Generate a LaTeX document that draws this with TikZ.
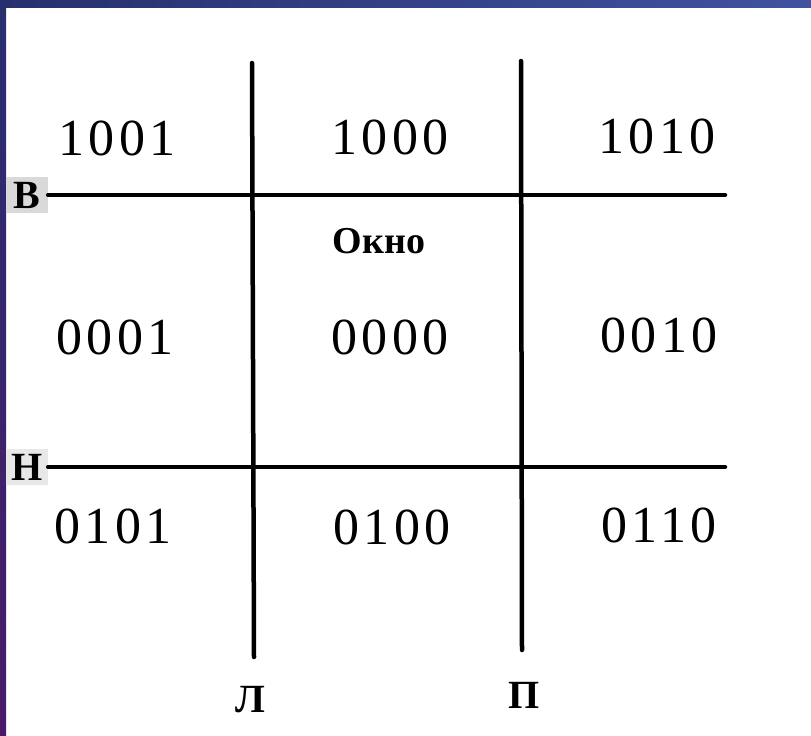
\documentclass[tikz,border=0pt]{standalone}
\usepackage{fontspec}
\setmainfont{Liberation Serif}
\newfontfamily\codefont{Liberation Serif}[LetterSpace=8]
\usetikzlibrary{positioning}

\definecolor{slidenavy}{HTML}{27306E}
\definecolor{slideblue}{HTML}{4152A0}
\definecolor{slidepurple}{HTML}{4A1A68}

\tikzset{
  code/.style={font=\codefont\fontsize{52}{52}\selectfont,inner sep=0pt},
  side/.style={font=\fontsize{40}{40}\selectfont\bfseries,inner sep=0pt},
  tag/.style={side,fill=gray!30,minimum width=42pt,minimum height=36pt},
  bound/.style={line width=4.5pt},
}

\begin{document}
\begin{tikzpicture}[x=1pt,y=-1pt,line cap=round,line join=round]
  \useasboundingbox (0,0) rectangle (811,736);
  \fill[white] (0,0) rectangle (811,736);
  % slide frame
  \shade[left color=slidenavy,right color=slideblue] (0,0) rectangle (811,7);
  \shade[top color=slidenavy,bottom color=slidepurple] (0,0) rectangle (6,736);

  % window bounds
  \node[tag] (B) at (27,195) {В};
  \node[tag,fill=gray!18] (H) at (27,467) {Н};
  \coordinate (Bend) at (725,195);
  \coordinate (Hend) at (725,467);
  \draw[bound] (B.east) -- (Bend);
  \draw[bound] (H.east) -- (Hend);

  \node[side] (L) at (250,700) {Л};
  \node[side] (P) at (524,695) {П};
  \coordinate (Ltop) at (252,63);
  \coordinate (Lbot) at (254,657);
  \coordinate (Ptop) at (521,61);
  \coordinate (Pbot) at (522,650);
  \draw[bound] (Ltop) -- (Lbot);
  \draw[bound] (Ptop) -- (Pbot);

  % region codes
  \node[code] (c1001) at (117,138) {1001};
  \node[code] (c1000) at (390,137) {1000};
  \node[code] (c1010) at (657,136) {1010};
  \node[side,font=\fontsize{38}{38}\selectfont\bfseries] (okno) at (379,241) {Окно};
  \node[code] (c0001) at (115,337) {0001};
  \node[code] (c0000) at (390,337) {0000};
  \node[code] (c0010) at (659,335) {0010};
  \node[code] (c0101) at (113,526) {0101};
  \node[code] (c0100) at (392,527) {0100};
  \node[code] (c0110) at (659,525) {0110};
\end{tikzpicture}
\end{document}
